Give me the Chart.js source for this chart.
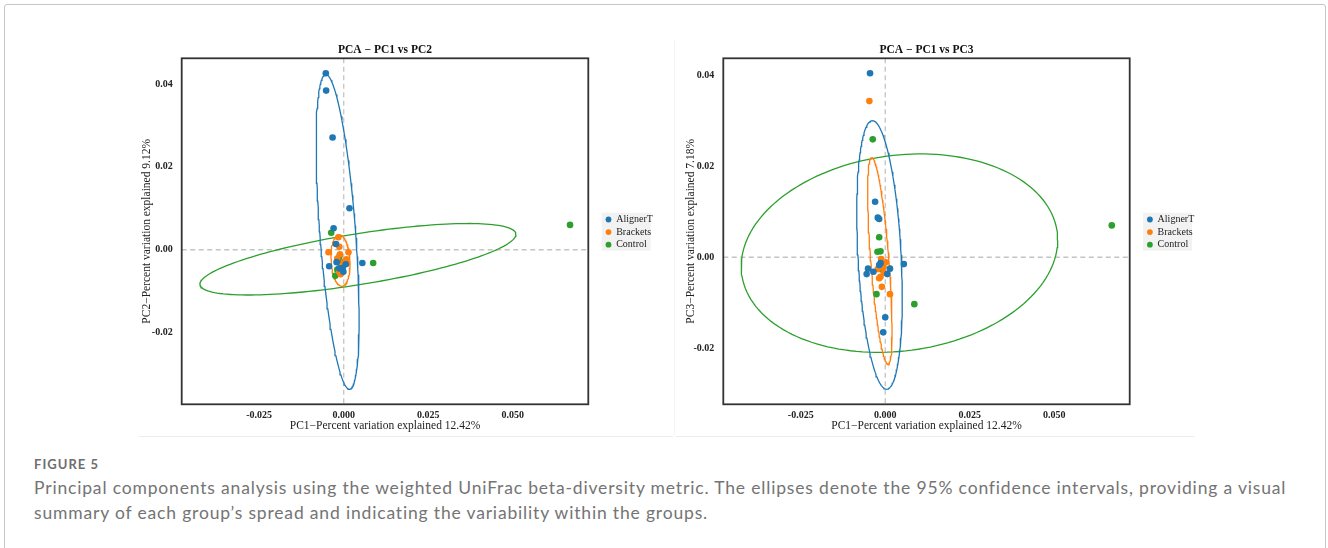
<!DOCTYPE html>
<html><head><meta charset="utf-8">
<script src="https://cdn.jsdelivr.net/npm/chart.js@4.4.1/dist/chart.umd.min.js"></script>
<style>
html,body{margin:0;padding:0;background:#fff;width:1328px;height:548px;overflow:hidden;}
#card{position:absolute;left:4px;top:4px;width:1322px;height:620px;border:1px solid #c6c6c6;border-radius:3px;box-sizing:border-box;}
.panel{position:absolute;top:30px;height:407px;}
#p1{left:140px;width:520px;}
#p2{left:660px;width:540px;}
.sep{position:absolute;height:1px;background:#ececec;}
.vsep{position:absolute;width:1px;background:#f5f5f5;}
#figlabel{position:absolute;left:34px;top:456px;font:bold 13px Lato,"Open Sans",sans-serif;color:#6e6e6e;white-space:nowrap;}
.cap{position:absolute;left:34px;font:17.5px Lato,"Open Sans",sans-serif;color:#747474;white-space:nowrap;}
</style></head>
<body>
<div id="card"></div>
<div class="sep" style="left:139px;width:534px;top:436px"></div>
<div class="sep" style="left:676px;width:518px;top:436px"></div>
<div class="vsep" style="left:674px;top:40px;height:396px"></div>
<div class="panel" id="p1"><canvas id="c1"></canvas></div>
<div class="panel" id="p2"><canvas id="c2"></canvas></div>
<div id="figlabel">FIGURE 5</div>
<div class="cap" id="cap1" style="top:477px">Principal components analysis using the weighted UniFrac beta-diversity metric. The ellipses denote the 95% confidence intervals, providing a visual</div>
<div class="cap" id="cap2" style="top:502px">summary of each group’s spread and indicating the variability within the groups.</div>
<script>
// ---------- data ----------
const groups = ['AlignerT', 'Brackets', 'Control'];
const colors = ['#1f77b4', '#ff7f0e', '#2ca02c'];
const xTicks = [-0.025, 0, 0.025, 0.05];
const xTickLabels = ['-0.025', '0.000', '0.025', '0.050'];
const yTicks = [-0.02, 0, 0.02, 0.04];
const yTickLabels = ['-0.02', '0.00', '0.02', '0.04'];
const xRange = [-0.0479, 0.0723];
const pc2Range = [-0.0373, 0.0462];
const pc3Range = [-0.0323, 0.0437];

// PC1 vs PC2 points [PC1, PC2]
const pc12Aligner = [[-0.0053,0.0426],[-0.0052,0.0384],[-0.0033,0.0271],[0.0017,0.0100],[-0.0030,0.0052],[-0.0023,0.0014],[-0.0043,-0.0040],[0.0055,-0.0032],[-0.0021,-0.0030],[0.0006,-0.0035],[-0.0003,-0.0044],[-0.0001,-0.0053],[-0.0013,-0.0045]];
const pc12Brackets = [[-0.0016,0.0030],[-0.0045,-0.0006],[0.0014,-0.0006],[-0.0013,0.0007],[-0.0011,-0.0011],[0.0008,-0.0023],[0.0009,-0.0033],[-0.0006,-0.0048],[-0.0013,-0.0053],[-0.0019,-0.0021],[0.0001,-0.0029],[-0.0009,-0.0059],[-0.0007,-0.0038]];
const pc12Control = [[-0.0037,0.0041],[0.0087,-0.0032],[0.0669,0.0060],[-0.0025,-0.0063],[-0.0013,-0.0025],[-0.0015,-0.0047],[-0.0019,-0.0048],[-0.0007,-0.0044],[-0.0012,-0.0014]];

// PC1 vs PC3 points [PC1, PC3]
const pc13Aligner = [[-0.0045,0.0404],[-0.0030,0.0122],[-0.0022,0.0087],[-0.0018,0.0084],[-0.0014,-0.0013],[-0.0051,-0.0025],[-0.0055,-0.0037],[-0.0035,-0.0032],[0.0014,-0.0025],[0.0006,-0.0037],[0.0055,-0.0015],[0.0000,-0.0132],[-0.0006,-0.0165],[-0.0018,-0.0017]];
const pc13Brackets = [[-0.0047,0.0343],[-0.0012,-0.0004],[0.0002,-0.0011],[-0.0005,-0.0022],[-0.0018,-0.0046],[-0.0014,-0.0043],[-0.0010,-0.0065],[0.0014,-0.0081],[-0.0022,-0.0026],[-0.0004,-0.0034]];
const pc13Control = [[-0.0037,0.0259],[-0.0018,0.0044],[-0.0023,0.0012],[-0.0014,0.0013],[0.0670,0.0070],[0.0086,-0.0103],[-0.0026,-0.0081],[-0.0014,-0.0026],[-0.0018,-0.0022]];

// 95% confidence ellipses: [centerX, centerY, axis1X, axis1Y, axis2X, axis2Y] (conjugate semi-diameters)
const pc12Ellipses = [[-0.0018,0.0043,-0.0035,0.0380,0.0053,0],[-0.00095,-0.0026,-0.00035,0.0062,0.0028,0],[0.0042,-0.0023,0.0467,0.0060,0,0.0062]];
const pc13Ellipses = [[-0.0017,0.0005,-0.0021,0.0295,0.0064,0],[-0.0016,-0.0008,-0.0024,0.0227,0.0027,0],[0.0042,0.0009,0.0468,0.0029,0,0.0216]];

// ---------- helpers ----------
function ellipsePath(p) {
  const [cx, cy, ux, uy, vx, vy] = p;
  const pts = [];
  const n = 160;
  for (let i = 0; i <= n; i++) {
    const t = 2 * Math.PI * i / n;
    pts.push({x: cx + ux * Math.cos(t) + vx * Math.sin(t), y: cy + uy * Math.cos(t) + vy * Math.sin(t)});
  }
  return pts;
}

function buildDatasets(pointSets, ellipses) {
  const ds = [];
  ellipses.forEach((e, i) => ds.push({
    label: groups[i] + ' ellipse', data: ellipsePath(e), showLine: true, pointRadius: 0,
    borderColor: colors[i], borderWidth: 1.3, fill: false, tension: 0, order: 2
  }));
  pointSets.forEach((s, i) => ds.push({
    label: groups[i], data: s.map(([x, y]) => ({x, y})), pointRadius: 3.3,
    backgroundColor: colors[i], borderColor: colors[i], borderWidth: 0, showLine: false, order: 1
  }));
  return ds;
}

const framePlugin = {
  id: 'frame',
  beforeDatasetsDraw(chart) {
    const {ctx, chartArea: a, scales} = chart;
    const x0 = scales.x.getPixelForValue(0), y0 = scales.y.getPixelForValue(0);
    ctx.save();
    ctx.strokeStyle = '#c4c4c4'; ctx.lineWidth = 1.3; ctx.setLineDash([5, 3.5]);
    ctx.beginPath(); ctx.moveTo(x0, a.top); ctx.lineTo(x0, a.bottom);
    ctx.moveTo(a.left, y0); ctx.lineTo(a.right, y0); ctx.stroke();
    ctx.restore();
  },
  afterDraw(chart) {
    const {ctx, chartArea: a} = chart;
    ctx.save();
    ctx.strokeStyle = '#333'; ctx.lineWidth = 1.8;
    ctx.strokeRect(a.left, a.top, a.right - a.left, a.bottom - a.top);
    // legend
    const bx = a.right + 13.4, by = a.top + 154.4;
    ctx.fillStyle = '#f2f2f2'; ctx.fillRect(bx, by, 49, 38);
    ctx.font = '10px "Liberation Serif"'; ctx.textBaseline = 'middle'; ctx.textAlign = 'left';
    groups.forEach((g, i) => {
      const y = by + 6.8 + i * 12.6;
      ctx.fillStyle = colors[i];
      ctx.beginPath(); ctx.arc(bx + 6.8, y, 2.9, 0, 2 * Math.PI); ctx.fill();
      ctx.fillStyle = '#222'; ctx.fillText(g, bx + 14.5, y);
    });
    ctx.restore();
  }
};

function makeChart(id, pointSets, ellipses, yRange, title, yTitle, padLeft, padRight, yWidth) {
  return new Chart(document.getElementById(id), {
    type: 'scatter',
    data: {datasets: buildDatasets(pointSets, ellipses)},
    options: {
      responsive: true, maintainAspectRatio: false, animation: false, devicePixelRatio: 1,
      layout: {padding: {left: padLeft, right: padRight, top: 0, bottom: 0}},
      plugins: {
        legend: {display: false}, tooltip: {enabled: false},
        title: {display: true, text: title, fullSize: false, color: '#111',
          font: {family: 'Liberation Serif', size: 11.5, weight: 'bold'}, padding: {top: 13.5, bottom: 1}}
      },
      scales: {
        x: {
          type: 'linear', min: xRange[0], max: xRange[1],
          afterBuildTicks: s => { s.ticks = xTicks.map(v => ({value: v})); },
          afterFit: s => { s.height = 32.7; },
          grid: {display: false, drawTicks: false}, border: {display: false},
          ticks: {autoSkip: false, maxRotation: 0, padding: 5, color: '#222',
            font: {family: 'Liberation Serif', size: 10, weight: 'bold'},
            callback: v => xTickLabels[xTicks.findIndex(t => Math.abs(t - v) < 1e-9)]},
          title: {display: true, text: 'PC1\u2212Percent variation explained 12.42%', color: '#222',
            font: {family: 'Liberation Serif', size: 11.5}, padding: {top: 0, bottom: 4}}
        },
        y: {
          type: 'linear', min: yRange[0], max: yRange[1],
          afterBuildTicks: s => { s.ticks = yTicks.map(v => ({value: v})); },
          afterFit: s => { s.width = yWidth; },
          grid: {display: false, drawTicks: false}, border: {display: false},
          ticks: {autoSkip: false, padding: 9, color: '#222',
            font: {family: 'Liberation Serif', size: 10, weight: 'bold'},
            callback: v => yTickLabels[yTicks.findIndex(t => Math.abs(t - v) < 1e-9)]},
          title: {display: true, text: yTitle, color: '#222',
            font: {family: 'Liberation Serif', size: 11.5}, padding: {top: 0, bottom: 0}}
        }
      }
    },
    plugins: [framePlugin]
  });
}

makeChart('c1', [pc12Aligner, pc12Brackets, pc12Control], pc12Ellipses, pc2Range,
  'PCA \u2212 PC1 vs PC2', 'PC2\u2212Percent variation explained 9.12%', 0, 71.7, 41.7);
makeChart('c2', [pc13Aligner, pc13Brackets, pc13Control], pc13Ellipses, pc3Range,
  'PCA \u2212 PC1 vs PC3', 'PC3\u2212Percent variation explained 7.18%', 23.8, 70.3, 39.5);

// caption fitting
function fitWidth(el, target) {
  el.style.letterSpacing = '0px';
  const w = el.getBoundingClientRect().width;
  const ls = (target - w) / el.textContent.length;
  el.style.letterSpacing = ls + 'px';
  return ls;
}
const ls = fitWidth(document.getElementById('cap1'), 1252);
document.getElementById('cap2').style.letterSpacing = ls + 'px';
fitWidth(document.getElementById('figlabel'), 65);
</script>
</body></html>
